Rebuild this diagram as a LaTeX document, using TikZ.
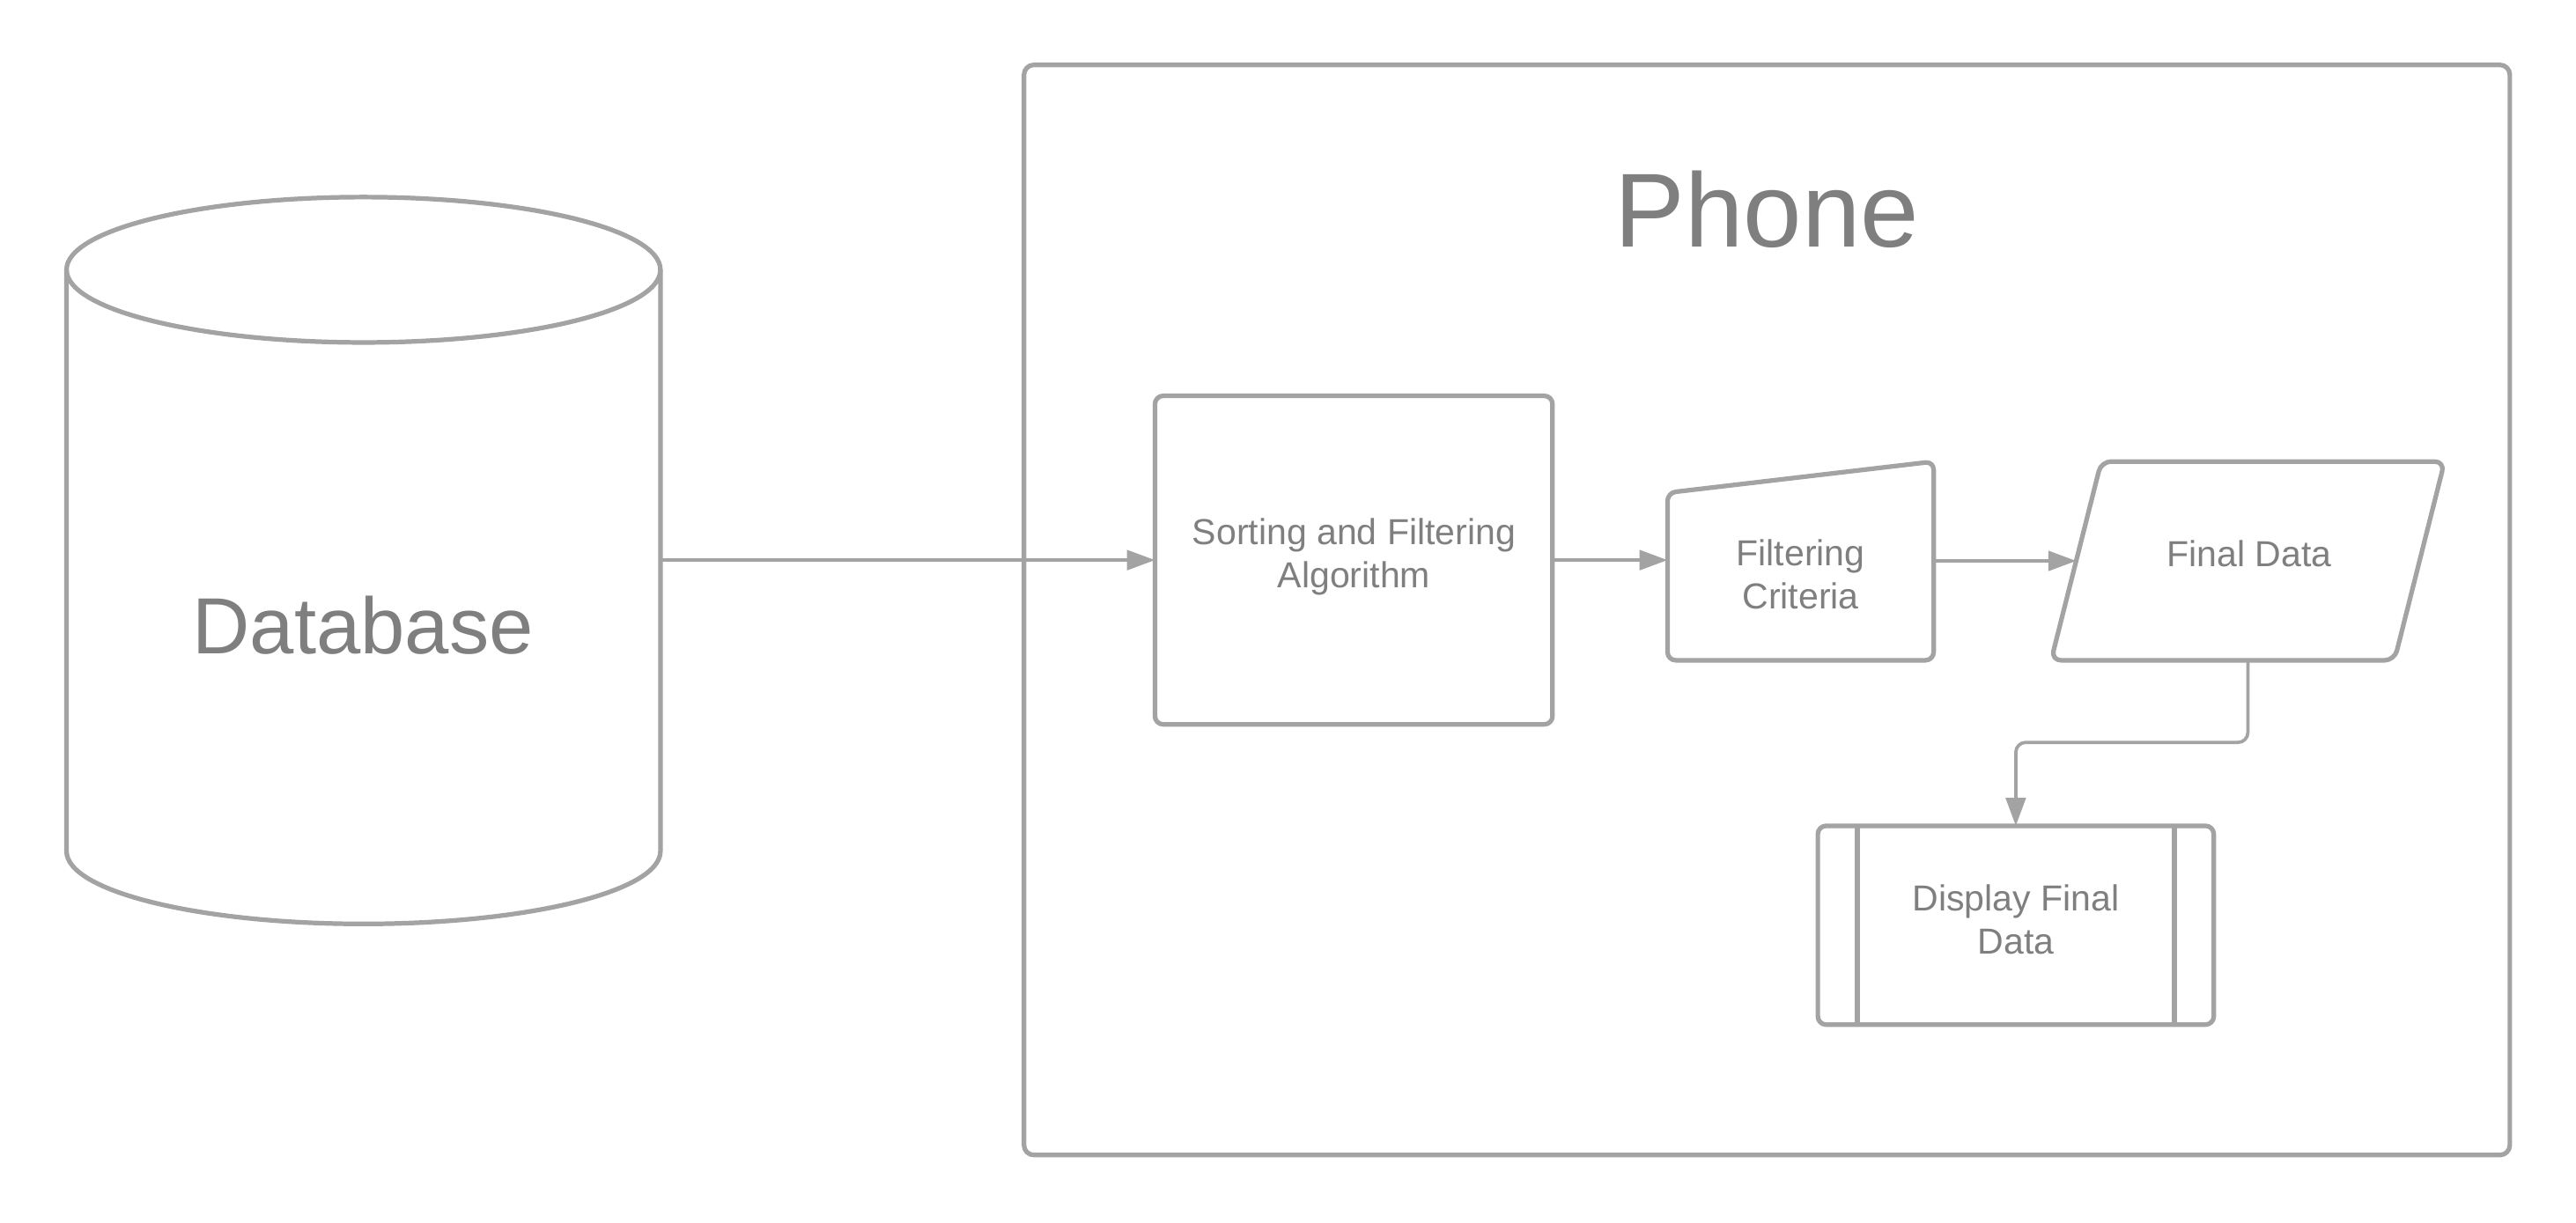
\documentclass[tikz,border=0pt]{standalone}
\usepackage{fontspec}
\setmainfont{Liberation Sans}
\usetikzlibrary{arrows.meta,calc}
\definecolor{linegray}{HTML}{A3A3A3}
\definecolor{textgray}{HTML}{7F7F7F}
\begin{document}
\begin{tikzpicture}[x=1pt,y=-1pt,
  shapeline/.style={draw=linegray, line width=2.8pt, line join=round},
  ghost/.style={inner sep=0pt, outer sep=0pt, anchor=north west},
  boxnode/.style={shapeline, inner sep=0pt, outer sep=0pt, anchor=north west, rounded corners=5pt},
  label/.style={text=textgray, inner sep=0pt, anchor=base, align=center, font=\fontsize{22}{26.5}\selectfont},
  conn/.style={draw=linegray, line width=2pt, -{Triangle[length=17pt, width=12pt]}}
]
\useasboundingbox (0,0) rectangle (1568,744.1);

% Phone container
\node[boxnode, rounded corners=6pt, minimum width=904.4pt, minimum height=663.7pt] (phone) at (623.3,39.5) {};
\node[text=textgray, inner sep=0pt, anchor=base, font=\fontsize{64}{76}\selectfont] (phonetitle) at (1075.5,150.5) {Phone};

% Database cylinder
\node[ghost, minimum width=361.5pt, minimum height=442.5pt] (db) at (40.5,120) {};
\draw[shapeline] ($(db.north west)+(0,44.25)$) -- ($(db.south west)+(0,-44.25)$)
  arc[start angle=180, end angle=360, x radius=180.75pt, y radius=44.25pt]
  -- ($(db.north east)+(0,44.25)$);
\draw[shapeline] ($(db.north)+(0,44.25)$) ellipse[x radius=180.75pt, y radius=44.25pt];
\node[text=textgray, inner sep=0pt, anchor=base, font=\fontsize{48.5}{58}\selectfont] (dblabel) at (221,398) {Database};

% Sorting and Filtering Algorithm
\node[boxnode, minimum width=242pt, minimum height=200pt] (sort) at (703,241) {};
\node[label] (sortlabel) at (824.2,357.9) {Sorting and Filtering\\Algorithm};

% Filtering Criteria (manual input)
\node[ghost, minimum width=162pt, minimum height=121pt] (filt) at (1015,281) {};
\draw[shapeline, rounded corners=5pt] ($(filt.north west)+(0,19)$) -- (filt.north east)
  -- (filt.south east) -- (filt.south west) -- cycle;
\node[label] (filtlabel) at (1096,370.8) {Filtering\\Criteria};

% Final Data (data parallelogram)
\node[ghost, minimum width=239.5pt, minimum height=121pt] (final) at (1248.5,281) {};
\draw[shapeline, rounded corners=6pt] ($(final.north west)+(30.5,0)$) -- (final.north east)
  -- ($(final.south east)+(-30.5,0)$) -- (final.south west) -- cycle;
\node[label] (finallabel) at (1369,345.2) {Final Data};

% Display Final Data (predefined process)
\node[boxnode, minimum width=241pt, minimum height=121pt] (disp) at (1106.5,502.8) {};
\draw[shapeline] ($(disp.north west)+(24,0)$) -- ($(disp.south west)+(24,0)$);
\draw[shapeline] ($(disp.north east)+(-24,0)$) -- ($(disp.south east)+(-24,0)$);
\node[label] (displabel) at (1227,580.8) {Display Final\\Data};

% Connectors
\draw[conn] (sort.west -| db.east) -- (sort.west);
\draw[conn] (sort.east) -- (sort.east -| filt.west);
\draw[conn] (filt.east) -- ($(final.west)+(15.25,0)$);
\draw[conn, rounded corners=6pt] (final.south) -- ($(final.south)+(0,50)$) -| (disp.north);
\end{tikzpicture}
\end{document}
